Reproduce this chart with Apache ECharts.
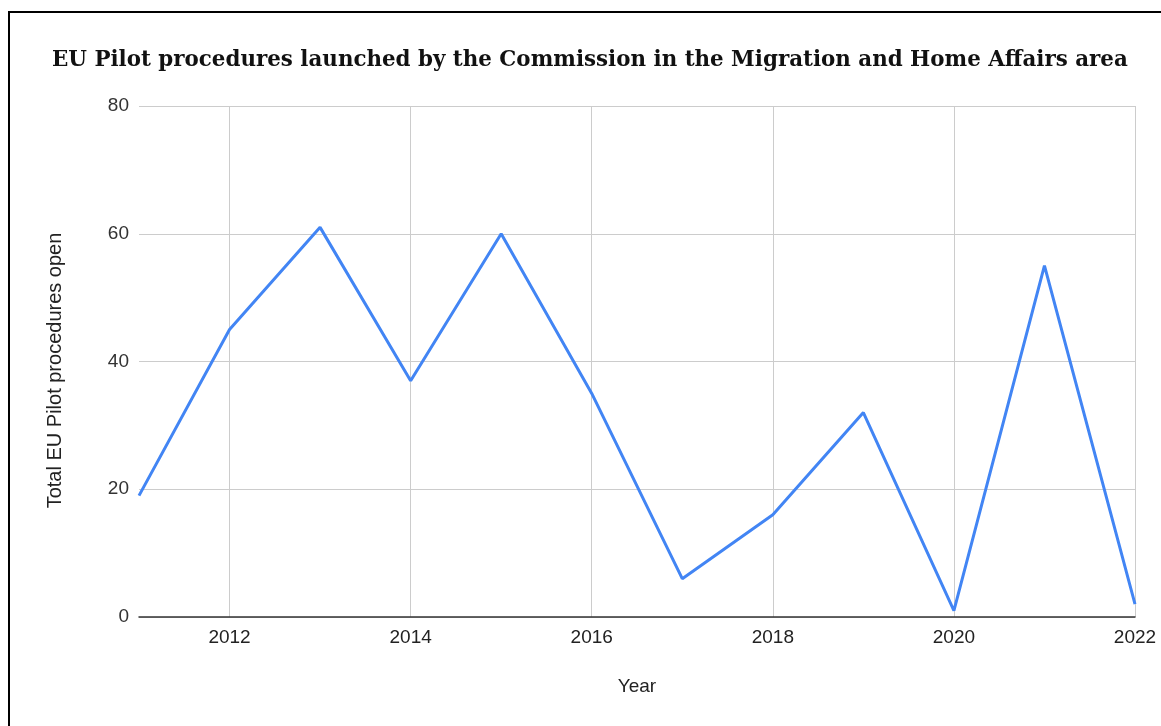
<!DOCTYPE html>
<html>
<head>
<meta charset="utf-8">
<style>
  html, body { margin: 0; padding: 0; background: #fff; }
  #chart { width: 1161px; height: 726px; }
</style>
<script src="https://cdn.jsdelivr.net/npm/echarts@6/dist/echarts.min.js"></script>
</head>
<body>
<div id="chart"></div>
<script>
// Years on the horizontal axis
const years = ['2011', '2012', '2013', '2014', '2015', '2016', '2017', '2018', '2019', '2020', '2021', '2022'];
// Total EU Pilot procedures opened each year
const procedures = [19, 45, 61, 37, 60, 35, 6, 16, 32, 1, 55, 2];

const chart = echarts.init(document.getElementById('chart'), null, { renderer: 'canvas' });

// Label and vertical grid line on every second year (2012, 2014, ...)
const showEveryOther = (i) => i % 2 === 1;

chart.setOption({
  backgroundColor: '#ffffff',
  animation: false,
  title: {
    text: 'EU Pilot procedures launched by the Commission in the Migration and Home Affairs area',
    left: 47,
    top: 45,
    textStyle: {
      fontFamily: 'DejaVu Serif',
      fontWeight: 'bold',
      fontSize: 21.4,
      color: '#111'
    }
  },
  graphic: [
    { type: 'line', shape: { x1: 8, y1: 12, x2: 1161, y2: 12 }, style: { stroke: '#000', lineWidth: 2 } },
    { type: 'line', shape: { x1: 9, y1: 11, x2: 9, y2: 726 }, style: { stroke: '#000', lineWidth: 2 } }
  ],
  grid: { left: 139, right: 26, top: 106, bottom: 109, containLabel: false },
  xAxis: {
    type: 'category',
    data: years,
    boundaryGap: false,
    name: 'Year',
    nameLocation: 'middle',
    nameGap: 60,
    nameTextStyle: { fontFamily: 'Liberation Sans', fontSize: 19, color: '#222' },
    axisLine: { lineStyle: { color: '#333', width: 1.5 } },
    axisTick: { show: false },
    axisLabel: {
      interval: showEveryOther,
      margin: 11,
      fontFamily: 'Liberation Sans',
      fontSize: 19,
      color: '#222'
    },
    splitLine: {
      show: true,
      interval: showEveryOther,
      lineStyle: { color: '#cccccc', width: 1 }
    }
  },
  yAxis: {
    type: 'value',
    min: 0,
    max: 80,
    interval: 20,
    name: 'Total EU Pilot procedures open',
    nameLocation: 'middle',
    nameGap: 74,
    nameRotate: 90,
    nameTextStyle: {
      fontFamily: 'Liberation Sans',
      fontSize: 20,
      color: '#222',
      padding: [0, 18, 0, 0]
    },
    axisLine: { show: false },
    axisTick: { show: false },
    axisLabel: {
      margin: 10,
      fontFamily: 'Liberation Sans',
      fontSize: 19,
      color: '#333'
    },
    splitLine: { lineStyle: { color: '#cccccc', width: 1 } }
  },
  series: [{
    type: 'line',
    data: procedures,
    showSymbol: false,
    symbol: 'none',
    lineStyle: { color: '#4285F4', width: 3 },
    itemStyle: { color: '#4285F4' }
  }]
});
</script>
</body>
</html>
